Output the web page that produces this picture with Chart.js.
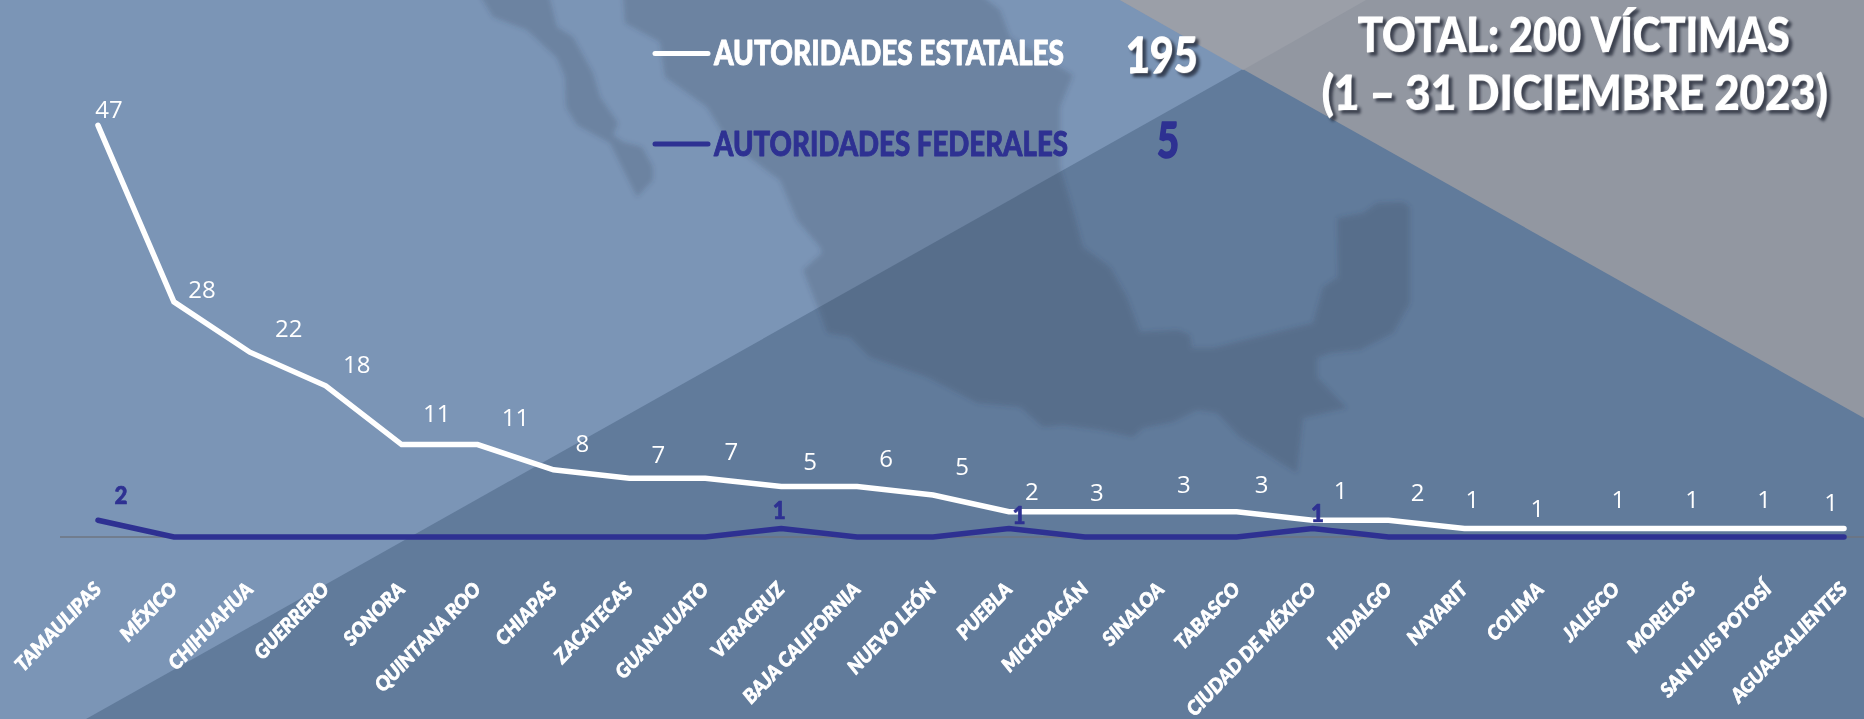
<!DOCTYPE html>
<html lang="es">
<head>
<meta charset="utf-8">
<title>Víctimas diciembre 2023</title>
<script src="https://cdn.jsdelivr.net/npm/chart.js@4/dist/chart.umd.min.js"></script>
<style>
html,body{margin:0;padding:0;width:1864px;height:719px;overflow:hidden;background:#7b95b6}
#wrap{position:relative;width:1864px;height:719px}
#bg{position:absolute;left:0;top:0}
canvas{position:absolute;left:0;top:0}
</style>
</head>
<body>
<div id="wrap">
<svg id="bg" width="1864" height="719" viewBox="0 0 1864 719" xmlns="http://www.w3.org/2000/svg">
  <defs><filter id="soft" x="-5%" y="-5%" width="110%" height="110%"><feGaussianBlur stdDeviation="2.4"/></filter></defs>
  <rect width="1864" height="719" fill="#7b95b6"/>
  <polygon points="86,719 1366,0 1864,0 1864,719" fill="#617b9b"/>
  <g fill="rgb(60,66,86)" fill-opacity="0.22" filter="url(#soft)">
    <polygon points="478,-8 493,17 527,30 557,58 565,77 566,107 577,125 610,143 637,197 653,180 653,167 642,147 623,142 613,135 618,123 600,97 593,73 573,37 557,27 548,-8"/>
    <polygon points="623,-8 625,23 660,42 665,77 707,107 727,140 770,173 780,180 797,220 820,247 822,253 803,270 820,313 827,333 850,337 870,357 927,377 977,403 1020,407 1043,427 1063,425 1100,430 1133,437 1143,428 1173,422 1197,410 1217,413 1240,437 1297,473 1303,418 1347,408 1317,377 1317,358 1330,353 1360,350 1393,333 1410,303 1410,207 1403,202 1377,203 1363,213 1337,218 1338,277 1323,287 1313,323 1213,348 1192,348 1190,335 1178,330 1140,332 1127,297 1110,267 1083,247 1073,210 1060,167 1060,107 1073,75 1010,37 1000,10 977,-8"/>
  </g>
  <polygon points="1120,0 1864,418 1864,0" fill="#9297a1"/>
  <polygon points="1120,0 1366,0 1243,70" fill="#9b9fa8"/>
</svg>
<canvas id="chart" width="1864" height="719"></canvas>
</div>
<script>
const categories = ["TAMAULIPAS","MÉXICO","CHIHUAHUA","GUERRERO","SONORA","QUINTANA ROO","CHIAPAS","ZACATECAS","GUANAJUATO","VERACRUZ","BAJA CALIFORNIA","NUEVO LEÓN","PUEBLA","MICHOACÁN","SINALOA","TABASCO","CIUDAD DE MÉXICO","HIDALGO","NAYARIT","COLIMA","JALISCO","MORELOS","SAN LUIS POTOSÍ","AGUASCALIENTES"];
const estatales = [47,28,22,18,11,11,8,7,7,5,6,5,2,3,3,3,1,2,1,1,1,1,1,1];
const federales = [2,0,0,0,0,0,0,0,0,1,0,0,1,0,0,0,1,0,0,0,0,0,0,0];
const seriesNames = ["AUTORIDADES ESTATALES","AUTORIDADES FEDERALES"];
const seriesTotals = ["195","5"];
const titleLines = ["TOTAL: 200 VÍCTIMAS","(1 – 31 DICIEMBRE 2023)"];

// manual data-label placement, relative to each point
const estatalLabelDX = [11,28,39,31,35,38,29,29,26,29,29,29,23,12,23,25,28,29,8,-3,2,0,-4,-13];
const estatalLabelDY = [-14,-11,-22,-20,-29,-25,-25,-22,-25,-23,-26,-27,-19,-18,-26,-26,-28,-26,-27,-18,-27,-27,-27,-24];
const federalLabelDX = {0:23,9:-2,12:10,16:5};
const federalLabelDY = {0:-24,9:-18,12:-13,16:-15};

const WHITE = "#ffffff", NAVY = "#2e3192";
const HEAVY = 'Lato';

function shadow(ctx,on){
  ctx.shadowColor = on ? "rgba(30,35,50,0.75)" : "transparent";
  ctx.shadowBlur = on ? 3 : 0;
  ctx.shadowOffsetX = on ? 3 : 0;
  ctx.shadowOffsetY = on ? 3 : 0;
}
function heavyText(c,text,x,y,w,color,weight){
  c.fillStyle = color; c.strokeStyle = color; c.lineWidth = weight; c.lineJoin = "round";
  c.strokeText(text,x,y,w);
  c.fillText(text,x,y,w);
}

const baseline = {
  id:"baseline",
  beforeDatasetsDraw(chart){
    const c = chart.ctx, y = chart.scales.y.getPixelForValue(0);
    c.save();
    c.strokeStyle = "rgba(110,115,125,0.7)";
    c.lineWidth = 2;
    c.beginPath(); c.moveTo(60,y); c.lineTo(1864,y); c.stroke();
    c.restore();
  }
};

const pointLabels = {
  id:"pointLabels",
  afterDatasetsDraw(chart){
    const c = chart.ctx;
    const fedMeta = chart.getDatasetMeta(0), estMeta = chart.getDatasetMeta(1);
    c.save();
    c.textAlign = "center"; c.textBaseline = "middle";
    c.fillStyle = WHITE;
    c.font = '24px "Open Sans"';
    estatales.forEach((v,i)=>{
      const p = estMeta.data[i];
      c.fillText(String(v), p.x+estatalLabelDX[i], p.y+estatalLabelDY[i]);
    });
    c.font = '900 25px '+HEAVY;
    federales.forEach((v,i)=>{
      if(!v) return;
      const p = fedMeta.data[i];
      heavyText(c,String(v), p.x+federalLabelDX[i], p.y+federalLabelDY[i], 13, NAVY, 0.7);
    });
    c.restore();
  }
};

const headings = {
  id:"headings",
  afterDraw(chart){
    const c = chart.ctx;
    c.save();
    c.textBaseline = "alphabetic";
    // title
    c.textAlign = "center";
    c.font = '900 47px '+HEAVY;
    shadow(c,true);
    heavyText(c,titleLines[0],1574,52,432,WHITE,1.2);
    heavyText(c,titleLines[1],1575,110,506,WHITE,1.2);
    // legend
    c.textAlign = "left";
    shadow(c,false);
    c.lineCap = "round"; c.lineWidth = 5;
    c.strokeStyle = WHITE;
    c.beginPath(); c.moveTo(655,53.5); c.lineTo(708,53.5); c.stroke();
    c.strokeStyle = NAVY;
    c.beginPath(); c.moveTo(655,144); c.lineTo(708,144); c.stroke();
    c.font = '900 35px '+HEAVY;
    heavyText(c,seriesNames[0],714,65,350,WHITE,0.9);
    heavyText(c,seriesNames[1],714,156,354,NAVY,0.9);
    // totals
    c.font = '900 50px '+HEAVY;
    shadow(c,true);
    heavyText(c,seriesTotals[0],1126,73,72,WHITE,1.4);
    shadow(c,false);
    heavyText(c,seriesTotals[1],1157,158,22,NAVY,1.6);
    c.restore();
  }
};

new Chart(document.getElementById("chart"),{
  type:"line",
  data:{
    labels:categories,
    datasets:[
      {label:seriesNames[1],data:federales,borderColor:NAVY,backgroundColor:NAVY,order:1,clip:false},
      {label:seriesNames[0],data:estatales,borderColor:WHITE,backgroundColor:WHITE,order:2,clip:false}
    ]
  },
  options:{
    responsive:false,
    animation:false,
    layout:{padding:{top:33,left:98,right:20,bottom:0}},
    elements:{
      point:{radius:0,hoverRadius:0},
      line:{borderWidth:5.5,tension:0,borderCapStyle:"round",borderJoinStyle:"miter"}
    },
    plugins:{legend:{display:false},title:{display:false},tooltip:{enabled:false}},
    scales:{
      x:{
        offset:false,
        grid:{display:false},
        border:{display:false},
        afterFit(s){s.height=182;s.paddingLeft=0;s.paddingRight=0;},
        ticks:{
          autoSkip:false,maxRotation:46,minRotation:46,padding:33,color:WHITE,
          textStrokeColor:WHITE,textStrokeWidth:0.8,
          font:{family:"Lato",size:19.5,weight:"900",style:"italic"}
        }
      },
      y:{display:false,stacked:true,min:0,max:60}
    }
  },
  plugins:[baseline,pointLabels,headings]
});
</script>
</body>
</html>
